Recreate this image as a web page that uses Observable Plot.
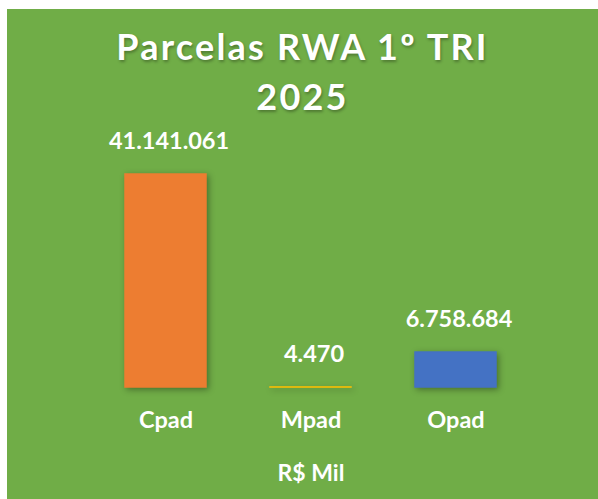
<!DOCTYPE html>
<html>
<head>
<meta charset="utf-8">
<script src="https://cdn.jsdelivr.net/npm/d3@7"></script>
<script src="https://cdn.jsdelivr.net/npm/@observablehq/plot@0.6"></script>
<style>
  html, body { margin: 0; padding: 0; background: #ffffff; }
  #panel { position: absolute; left: 7px; top: 9px; width: 591px; height: 490px; background: #70AD47; overflow: hidden; font-family: Lato, "Open Sans", sans-serif; }
  #title { position: absolute; left: 0; top: 12px; width: 591px; text-align: center; color: #fff; font-weight: 700; font-size: 36px; line-height: 50px; letter-spacing: 2.2px; text-shadow: 1px 2px 3px rgba(0,0,0,0.3); }
  #chart { position: absolute; left: 0; top: 0; }
  #chart svg rect { filter: drop-shadow(2px 2px 3px rgba(0,0,0,0.35)); }
</style>
</head>
<body>
<div id="panel">
  <div id="title">Parcelas RWA 1º TRI<br>2025</div>
  <div id="chart"></div>
</div>
<script>
const categories = ["Cpad", "Mpad", "Opad"];
const values = [41141061, 4470, 6758684];
const valueLabels = ["41.141.061", "4.470", "6.758.684"];
const colors = ["#ED7D31", "#FFC000", "#4472C4"];
const unitLabel = "R$ Mil";

const data = categories.map((c, i) => ({cat: c, value: values[i], label: valueLabels[i]}));

const chart = Plot.plot({
  width: 591,
  height: 490,
  style: {background: "transparent", fontFamily: "Lato, 'Open Sans', sans-serif", overflow: "visible"},
  x: {domain: categories, range: [54, 554], padding: 0.44, axis: null},
  y: {domain: [0, 41141061], range: [378, 165], axis: null},
  color: {domain: categories, range: colors},
  marks: [
    Plot.barY(data, {x: "cat", y: "value", fill: "cat", stroke: "cat", strokeWidth: 1.5}),
    Plot.text(data, {x: "cat", y: "value", text: "label", dx: 3, dy: -33, fill: "#fff", fontSize: 23.5, fontWeight: 700}),
    Plot.text(data, {x: "cat", y: 0, text: "cat", dy: 33, fill: "#fff", fontSize: 23.5, fontWeight: 700}),
    Plot.text([unitLabel], {x: () => "Mpad", y: 0, text: d => d, dy: 86, fill: "#fff", fontSize: 23, fontWeight: 700})
  ]
});
document.getElementById("chart").appendChild(chart);
</script>
</body>
</html>
